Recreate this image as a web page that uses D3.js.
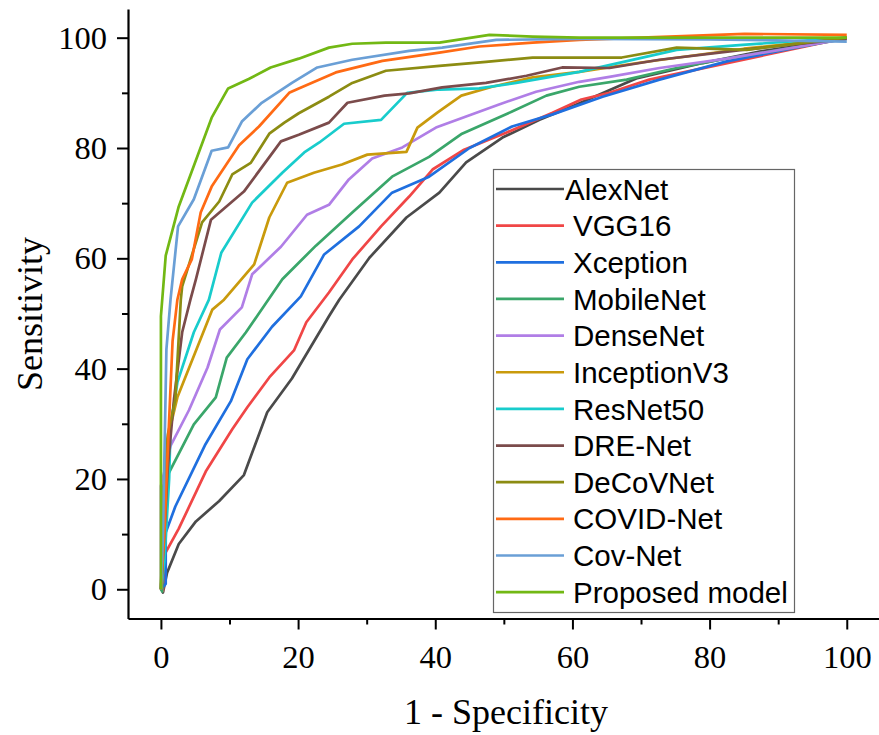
<!DOCTYPE html>
<html>
<head>
<meta charset="utf-8">
<script src="https://cdn.jsdelivr.net/npm/d3@7"></script>
<style>
html,body{margin:0;padding:0;background:#fff;}
svg{display:block;}
</style>
</head>
<body>
<svg id="chart" width="879" height="735"></svg>
<script>
// ---- data (1 - specificity, sensitivity) in % ----
const models = ["AlexNet","VGG16","Xception","MobileNet","DenseNet","InceptionV3","ResNet50","DRE-Net","DeCoVNet","COVID-Net","Cov-Net","Proposed model"];
const colors = ["#4a4a4a","#f04646","#1f6fdf","#3aa66a","#b07ee6","#c99a0c","#18cccc","#7b4b4b","#8c8c12","#ff6a14","#6a9fd6","#72b814"];

const alexnet = [[0,0.5],[0.3,-0.6],[0.9,3],[2.6,8.2],[5.1,12.3],[8.5,16],[12.1,20.7],[15.5,32.1],[19.1,38.2],[24.5,49.5],[26,52.5],[30.4,60.1],[35.8,67.4],[40.6,71.9],[44.5,77.4],[49.8,81.9],[55.2,85.1],[60.6,87.9],[69.3,92.6],[79,95.4],[87.3,97.5],[100,99.8]];
const vgg16 = [[0,0],[0.3,-0.3],[0.7,6.7],[2.6,11],[6.6,21.5],[10.4,29],[12.6,33],[15.8,38.4],[19.4,43.3],[21.2,48.4],[24.5,53.8],[27.9,59.8],[32.1,65.8],[36.2,71.2],[39.6,76.1],[44.2,79.7],[50.4,82.8],[57.1,86.4],[61.3,88.8],[65.4,90],[71.2,92.4],[100,100]];
const xception = [[0,0],[0.7,1],[0.7,10.3],[2.1,15],[6.5,26.3],[10.2,34.1],[12.6,41.7],[16.2,47.6],[20.4,53.1],[23.8,60.7],[28.9,65.8],[33.7,71.9],[39.1,74.8],[45,80],[51.2,83.9],[57.1,86.1],[64.4,89.3],[72.7,92.4],[82.5,95.7],[100,100]];
const mobilenet = [[0,0],[0.2,-0.4],[0.2,18.7],[1.2,21.2],[4.8,29.9],[8,34.8],[9.6,42],[12.4,46.6],[17.7,56.2],[20.1,59.2],[22.6,62.3],[27.9,68.3],[33.7,74.8],[39.1,78.4],[43.9,82.6],[51.2,86.6],[56.2,89.5],[61,91.1],[67.9,92.4],[75.2,94.5],[81.5,96],[100,99.8]];
const densenet = [[0,0],[0,18.7],[1.4,26],[4.1,32.5],[6.8,40.2],[8.6,47.1],[11.8,51.1],[13.3,57.1],[17.5,62.1],[21.3,67.9],[24.5,69.7],[27.4,74.3],[30.8,78.1],[35.2,80.1],[40.1,83.7],[44.5,85.7],[49.3,87.9],[54.7,90.2],[61,92],[65.4,92.9],[72.7,94.5],[82.5,96.2],[100,99.8]];
const inceptionv3 = [[0,0],[0.5,20],[0.9,27],[2.4,34.8],[7.5,50.7],[9.2,52.5],[13.6,58.9],[15.8,67.4],[18.4,73.7],[22.3,75.5],[26.4,77],[30.1,78.8],[35.8,79.3],[37.4,83.7],[40.3,86.4],[43.8,89.5],[48.3,91.1],[54.2,92.8],[61,93.8],[70,95.5],[85,98],[100,100]];
const resnet50 = [[0,0],[0.5,5],[1.2,20],[1.4,29.5],[2.4,37.5],[4.8,46.6],[7,52.5],[8.8,61],[13.3,70.1],[17.7,75.5],[20.9,79.2],[23.1,81],[26.7,84.4],[32.1,85.1],[35.9,90],[40.6,90.6],[46.4,90.8],[51.8,91.8],[61,93.8],[75.2,97.8],[84.8,98.7],[100,100]];
const drenet = [[0,0],[0.5,10],[1,22],[1.9,34.4],[3.1,46.6],[4.3,52.5],[5.1,56.2],[7.3,67],[12.1,72.1],[17.5,81.2],[20.1,82.4],[24.5,84.6],[27.2,88.2],[32.6,89.5],[36.2,89.9],[41,91],[47.4,91.8],[53.3,93.1],[58.5,94.6],[65.4,94.5],[72.7,96],[84.8,97.8],[100,99.8]];
const decovnet = [[0,0],[0.5,15],[1,28],[2.1,34.4],[2.9,52.5],[3.1,54.9],[6,66.5],[8.5,70.3],[10.4,75.2],[13.1,77.3],[15.8,82.6],[18,84.6],[20.1,86.3],[24.5,89.3],[27.9,91.8],[32.8,94],[40.6,94.9],[47.4,95.6],[54.2,96.4],[67.2,96.4],[75.2,98.2],[85.4,97.8],[100,100]];
const covidnet = [[0,0],[0.5,10],[0.9,22.3],[1.7,45],[2.4,52.5],[3.1,56.2],[4.5,59.8],[5.8,68.3],[7.4,73],[11.4,80.5],[14.3,83.9],[18.7,90],[20.1,90.8],[25.5,93.7],[32.3,95.8],[40.6,97.3],[46.4,98.4],[54.2,99.1],[61,99.6],[85.1,100.7],[100,100.5]];
const covnet = [[0,0],[0.3,10],[0.8,43.5],[1.4,52.5],[2.5,65.8],[4.8,70.7],[7.4,79.5],[9.8,80.1],[11.8,84.8],[14.7,88.2],[19.1,91.8],[22.8,94.6],[27.9,96],[36.2,97.6],[41,98.2],[48.9,99.6],[61,99.8],[80,99.7],[100,99.3]];
const proposed = [[0,0],[0,49.5],[0.7,60.5],[2.6,69.4],[7.4,85.5],[9.8,90.8],[12.8,92.5],[16,94.6],[20.1,96.2],[24.5,98.2],[27.9,98.9],[32.8,99.1],[40.6,99.1],[47.9,100.5],[54.2,100.2],[61,100],[100,100]];

const seriesData = [alexnet,vgg16,xception,mobilenet,densenet,inceptionv3,resnet50,drenet,decovnet,covidnet,covnet,proposed];
const xTicks = [0,20,40,60,80,100];
const yTicks = [0,20,40,60,80,100];
const xMinor = [10,30,50,70,90];
const yMinor = [10,30,50,70,90];

// ---- layout ----
const svg = d3.select("#chart");
const x = d3.scaleLinear().domain([-4.8,104.7]).range([128,879]);
const y = d3.scaleLinear().domain([-5.3,105.2]).range([618.5,9]);

const serif = "'Liberation Serif','Times New Roman',serif";
const sans = "'Liberation Sans',Arial,sans-serif";

// curves
const line = d3.line().x(d=>x(d[0])).y(d=>y(d[1]));
const gLines = svg.append("g");
seriesData.forEach((s,i)=>{
  gLines.append("path").datum(s).attr("d",line)
    .attr("fill","none").attr("stroke",colors[i]).attr("stroke-width",2.7)
    .attr("stroke-linejoin","round");
});

// axes
const xAxis = svg.append("g").attr("transform",`translate(0,${y.range()[0]})`)
  .call(d3.axisBottom(x).tickValues(xTicks).tickSize(11).tickPadding(15).tickSizeOuter(0));
const xMinorG = svg.append("g").attr("transform",`translate(0,${y.range()[0]})`)
  .call(d3.axisBottom(x).tickValues(xMinor).tickSize(6).tickFormat("").tickSizeOuter(0));
const yAxis = svg.append("g").attr("transform",`translate(${x.range()[0]},0)`)
  .call(d3.axisLeft(y).tickValues(yTicks).tickSize(11).tickPadding(10).tickSizeOuter(0));
const yMinorG = svg.append("g").attr("transform",`translate(${x.range()[0]},0)`)
  .call(d3.axisLeft(y).tickValues(yMinor).tickSize(6).tickFormat("").tickSizeOuter(0));

[xAxis,yAxis,xMinorG,yMinorG].forEach(g=>{
  g.selectAll("path.domain").attr("stroke","#000").attr("stroke-width",2.2);
  g.selectAll(".tick line").attr("stroke","#000").attr("stroke-width",2);
  g.selectAll("text").attr("font-family",serif).attr("font-size",32.5).attr("fill","#000");
});
xMinorG.select("path.domain").remove();
yMinorG.select("path.domain").remove();

// axis titles
svg.append("text").attr("x",506).attr("y",724).attr("text-anchor","middle")
  .attr("font-family",serif).attr("font-size",36).text("1 - Specificity");
svg.append("text").attr("transform","translate(42,314) rotate(-90)").attr("text-anchor","middle")
  .attr("font-family",serif).attr("font-size",36).text("Sensitivity");

// legend
const lg = svg.append("g");
lg.append("rect").attr("x",493.5).attr("y",169.5).attr("width",301).attr("height",443)
  .attr("fill","#fff").attr("stroke","#666").attr("stroke-width",1.2);
models.forEach((m,i)=>{
  const cy = 189 + i*36.65;
  lg.append("line").attr("x1",496).attr("x2",564).attr("y1",cy).attr("y2",cy)
    .attr("stroke",colors[i]).attr("stroke-width",2.7);
  lg.append("text").attr("x", i===0 ? 565 : 573).attr("y",cy).attr("dy","0.36em")
    .attr("font-family",sans).attr("font-size",29.5).attr("fill","#000").text(m);
});
</script>
</body>
</html>
